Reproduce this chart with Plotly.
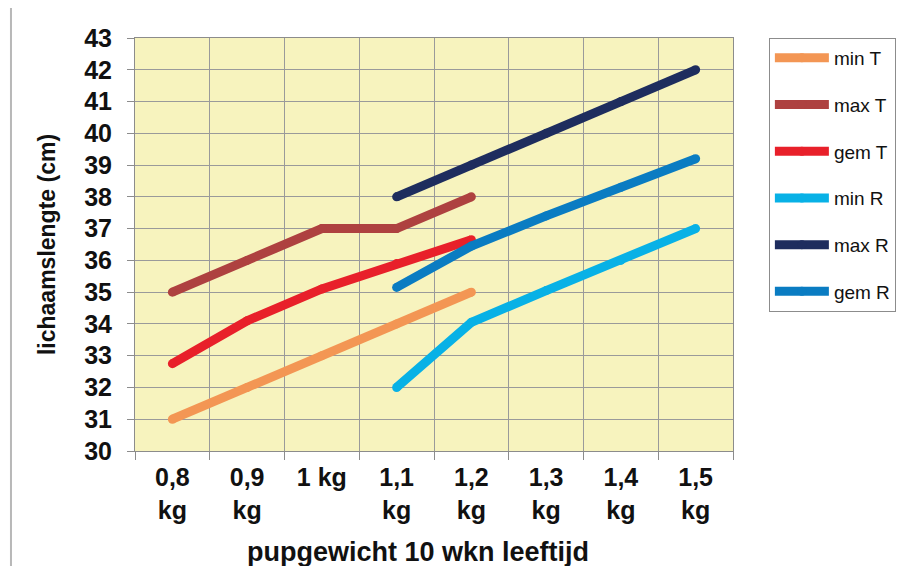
import plotly.graph_objects as go

categories = ["0,8<br>kg", "0,9<br>kg", "1 kg", "1,1<br>kg", "1,2<br>kg", "1,3<br>kg", "1,4<br>kg", "1,5<br>kg"]

min_T = [31, 32, 33, 34, 35, None, None, None]
max_T = [35, 36, 37, 37, 38, None, None, None]
gem_T = [32.75, 34.1, 35.1, 35.9, 36.65, None, None, None]
min_R = [None, None, None, 32, 34.05, 35.05, 36.0, 37.0]
max_R = [None, None, None, 38, 39, 40, 41, 42]
gem_R = [None, None, None, 35.15, 36.45, 37.4, 38.3, 39.2]

x_title = "pupgewicht 10 wkn leeftijd"
y_title = "lichaamslengte (cm)"

series = [
    ("min T", min_T, "#F39654"),
    ("max T", max_T, "#AE4140"),
    ("gem T", gem_T, "#E8202A"),
    ("min R", min_R, "#08B1E6"),
    ("max R", max_R, "#1E2D5E"),
    ("gem R", gem_R, "#0A7CC2"),
]

FONT = "Liberation Sans, Arial, sans-serif"
LW = 9

fig = go.Figure()
for i, (name, vals, col) in enumerate(series):
    fig.add_trace(go.Scatter(
        x=categories, y=vals, name=name, mode="lines+markers",
        line=dict(color=col, width=LW),
        marker=dict(color=col, size=LW, line=dict(width=0)),
        legendgroup=f"g{i}", connectgaps=False,
    ))

fig.update_layout(
    width=906, height=558,
    margin=dict(l=127, r=181, t=30, b=115),
    paper_bgcolor="white",
    plot_bgcolor="#F7F3BE",
    font=dict(family=FONT, color="#111111"),
    legend=dict(
        x=1.06, y=1.0, xanchor="left", yanchor="top",
        bordercolor="#8c8c8c", borderwidth=1, bgcolor="white",
        font=dict(family=FONT, size=19, color="#111111"),
        tracegroupgap=19,
        itemwidth=54,
    ),
    shapes=[dict(type="line", xref="paper", yref="paper",
                 x0=-0.2074, x1=-0.2074, y0=-0.3, y1=1.1,
                 line=dict(color="#b8b8b8", width=2))],
    annotations=[dict(text=x_title, xref="paper", yref="paper",
                      x=0.474, y=-0.245, xanchor="center", yanchor="middle",
                      showarrow=False,
                      font=dict(family=FONT, size=27, weight="bold", color="#111111"))],
)

fig.update_xaxes(
    type="category", tickson="boundaries",
    showgrid=True, gridcolor="#9a9a9a", gridwidth=1,
    showline=True, linecolor="#8c8c8c", linewidth=1, mirror=True,
    ticks="outside", ticklen=8, tickcolor="#8c8c8c",
    ticklabelstandoff=4,
    tickfont=dict(family=FONT, size=25, weight="bold", color="#111111"),
    range=[-0.5, 7.5],
)
fig.update_yaxes(
    range=[30, 43], dtick=1, tick0=30,
    showgrid=True, gridcolor="#9a9a9a", gridwidth=1,
    showline=True, linecolor="#8c8c8c", linewidth=1, mirror=True,
    ticks="outside", ticklen=7, tickcolor="#8c8c8c",
    ticklabelstandoff=10,
    tickfont=dict(family=FONT, size=25, weight="bold", color="#111111"),
    title=dict(text=y_title,
               font=dict(family=FONT, size=23, weight="bold", color="#111111"),
               standoff=22),
    zeroline=False,
)

fig.write_html("out.html")
